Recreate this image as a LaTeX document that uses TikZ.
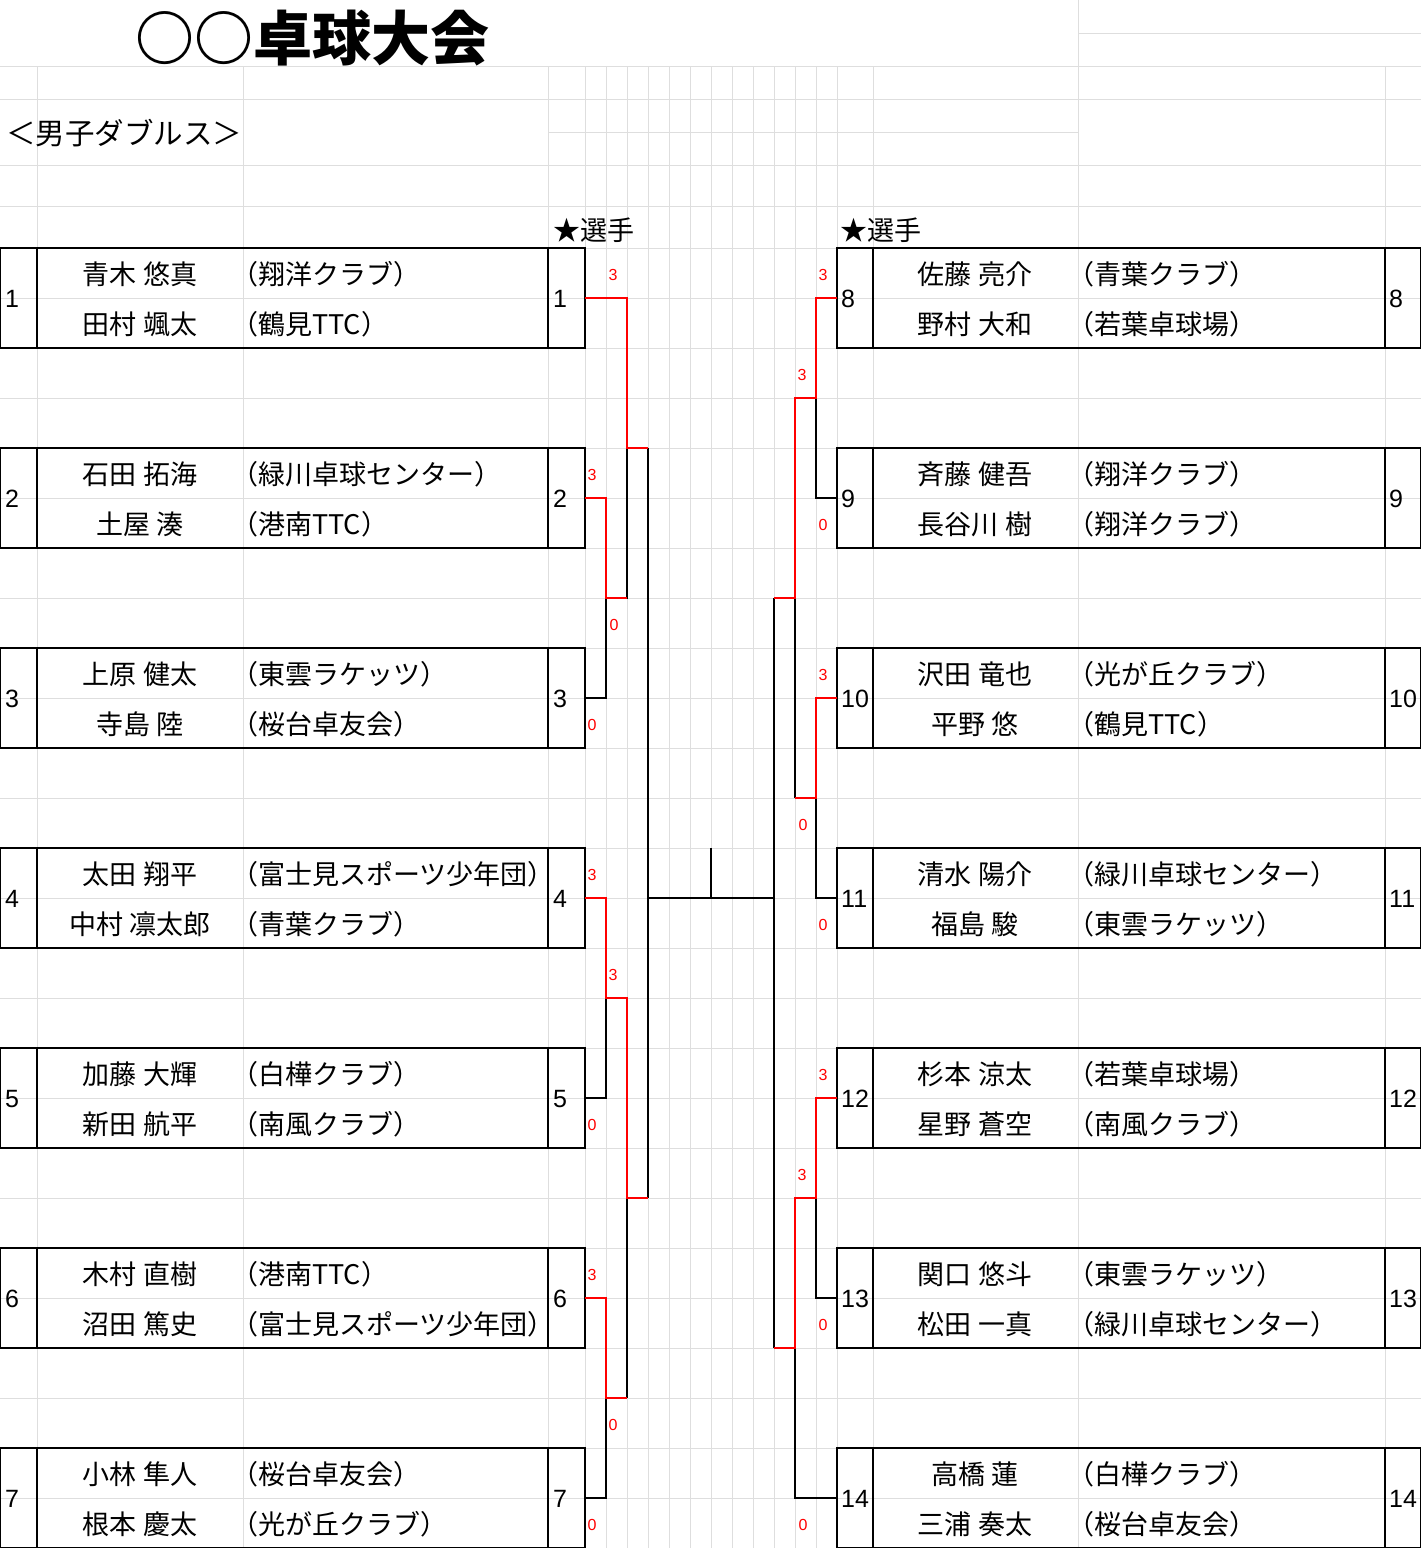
\documentclass[tikz,border=0pt]{standalone}
\usepackage{fontspec}
\setmainfont{Noto Sans CJK JP}
\newfontfamily\numf{Liberation Sans}
\begin{document}
\begin{tikzpicture}[x=1pt,y=-1pt,
  grid/.style={draw=black!13,line width=0.8pt},
  box/.style={draw=black,line width=1.2pt},
  blk/.style={draw=black,line width=1.2pt},
  win/.style={draw=red,line width=2.8pt},
  nm/.style={font=\fontsize{27}{27}\selectfont,inner sep=0pt},
  num/.style={font=\numf\fontsize{25}{25}\selectfont,inner sep=0pt,anchor=west},
  sc/.style={font=\numf\fontsize{16}{16}\selectfont,text=red,inner sep=0pt}]
\useasboundingbox (0,0) rectangle (1421,1548);
\fill[white] (0,0) rectangle (1421,1548);
% grid
\foreach \y in {66,99,165,206} \draw[grid] (0,\y)--(1421,\y);
\draw[grid] (548,132)--(1078,132);
\draw[grid] (1078,33)--(1421,33);
\foreach \y in {248,298,...,1548} \draw[grid] (0,\y)--(1421,\y);
\foreach \x in {37,243,548,585,606,627,648,669,690,711,732,753,774,795,816,837,873,1078,1385} \draw[grid] (\x,66)--(\x,1548);
\draw[grid] (1078,0)--(1078,66);
% title
\node[font=\fontsize{59}{59}\selectfont\bfseries,anchor=west,inner sep=0pt] (title) at (135,38) {○○卓球大会};
\node[font=\fontsize{29.5}{29.5}\selectfont,anchor=west,inner sep=0pt] (sub) at (6,133) {＜男子ダブルス＞};
\node[font=\fontsize{27}{27}\selectfont,anchor=west,inner sep=0pt] (hl) at (553,230) {★選手};
\node[font=\fontsize{27}{27}\selectfont,anchor=west,inner sep=0pt] (hr) at (840,230) {★選手};
% left entries
\foreach \i/\a/\ca/\b/\cb in {1/青木 悠真/（翔洋クラブ）/田村 颯太/（鶴見TTC）,
 2/石田 拓海/（緑川卓球センター）/土屋 湊/（港南TTC）,
 3/上原 健太/（東雲ラケッツ）/寺島 陸/（桜台卓友会）,
 4/太田 翔平/（富士見スポーツ少年団）/中村 凛太郎/（青葉クラブ）,
 5/加藤 大輝/（白樺クラブ）/新田 航平/（南風クラブ）,
 6/木村 直樹/（港南TTC）/沼田 篤史/（富士見スポーツ少年団）,
 7/小林 隼人/（桜台卓友会）/根本 慶太/（光が丘クラブ）}{
  \pgfmathsetmacro\t{248+200*(\i-1)}
  \draw[box] (0,\t) rectangle (585,\t+100);
  \draw[box] (37,\t)--(37,\t+100) (548,\t)--(548,\t+100);
  \node[num] (ln\i) at (5,\t+51) {\i};
  \node[num] (rn\i) at (553,\t+51) {\i};
  \node[nm] (la\i) at (140,\t+26) {\a};
  \node[nm] (lb\i) at (140,\t+76) {\b};
  \node[nm,anchor=west] (lca\i) at (231,\t+26) {\ca};
  \node[nm,anchor=west] (lcb\i) at (231,\t+76) {\cb};
}
% right entries
\foreach \i/\a/\ca/\b/\cb in {8/佐藤 亮介/（青葉クラブ）/野村 大和/（若葉卓球場）,
 9/斉藤 健吾/（翔洋クラブ）/長谷川 樹/（翔洋クラブ）,
 10/沢田 竜也/（光が丘クラブ）/平野 悠/（鶴見TTC）,
 11/清水 陽介/（緑川卓球センター）/福島 駿/（東雲ラケッツ）,
 12/杉本 涼太/（若葉卓球場）/星野 蒼空/（南風クラブ）,
 13/関口 悠斗/（東雲ラケッツ）/松田 一真/（緑川卓球センター）,
 14/高橋 蓮/（白樺クラブ）/三浦 奏太/（桜台卓友会）}{
  \pgfmathsetmacro\t{248+200*(\i-8)}
  \draw[box] (837,\t) rectangle (1421,\t+100);
  \draw[box] (873,\t)--(873,\t+100) (1385,\t)--(1385,\t+100);
  \node[num] (mn\i) at (841,\t+51) {\i};
  \node[num] (en\i) at (1389,\t+51) {\i};
  \node[nm] (ra\i) at (975,\t+26) {\a};
  \node[nm] (rb\i) at (975,\t+76) {\b};
  \node[nm,anchor=west] (rca\i) at (1067,\t+26) {\ca};
  \node[nm,anchor=west] (rcb\i) at (1067,\t+76) {\cb};
}
% left bracket black
\draw[blk] (627,448)--(627,598)--(606,598)--(606,698)--(585,698);
\draw[blk] (606,998)--(606,1098)--(585,1098);
\draw[blk] (627,1198)--(627,1398);
\draw[blk] (606,1398)--(606,1498)--(585,1498);
\draw[blk] (648,448)--(648,1198);
\draw[blk] (648,898)--(774,898);
\draw[blk] (711,848)--(711,898);
\draw[blk] (774,598)--(774,1348);
% right bracket black
\draw[blk] (816,398)--(816,498)--(837,498);
\draw[blk] (795,598)--(795,798);
\draw[blk] (816,798)--(816,898)--(837,898);
\draw[blk] (816,1198)--(816,1298)--(837,1298);
\draw[blk] (795,1348)--(795,1498)--(837,1498);
% winners red
\draw[win] (585,298)--(627,298)--(627,448)--(648,448);
\draw[win] (585,498)--(606,498)--(606,598)--(627,598);
\draw[win] (585,898)--(606,898)--(606,998)--(627,998)--(627,1198)--(648,1198);
\draw[win] (585,1298)--(606,1298)--(606,1398)--(627,1398);
\draw[win] (837,298)--(816,298)--(816,398)--(795,398)--(795,598)--(774,598);
\draw[win] (837,698)--(816,698)--(816,798)--(795,798);
\draw[win] (837,1098)--(816,1098)--(816,1198)--(795,1198)--(795,1348)--(774,1348);
% scores
\foreach \x/\y/\s [count=\k] in {613/275/3,592/475/3,614/625/0,592/725/0,592/875/3,613/975/3,592/1125/0,592/1275/3,613/1425/0,592/1525/0,
 823/275/3,802/375/3,823/525/0,823/675/3,803/825/0,823/925/0,823/1075/3,802/1175/3,823/1325/0,803/1525/0}
  \node[sc] (s\k) at (\x,\y) {\s};
\end{tikzpicture}
\end{document}
